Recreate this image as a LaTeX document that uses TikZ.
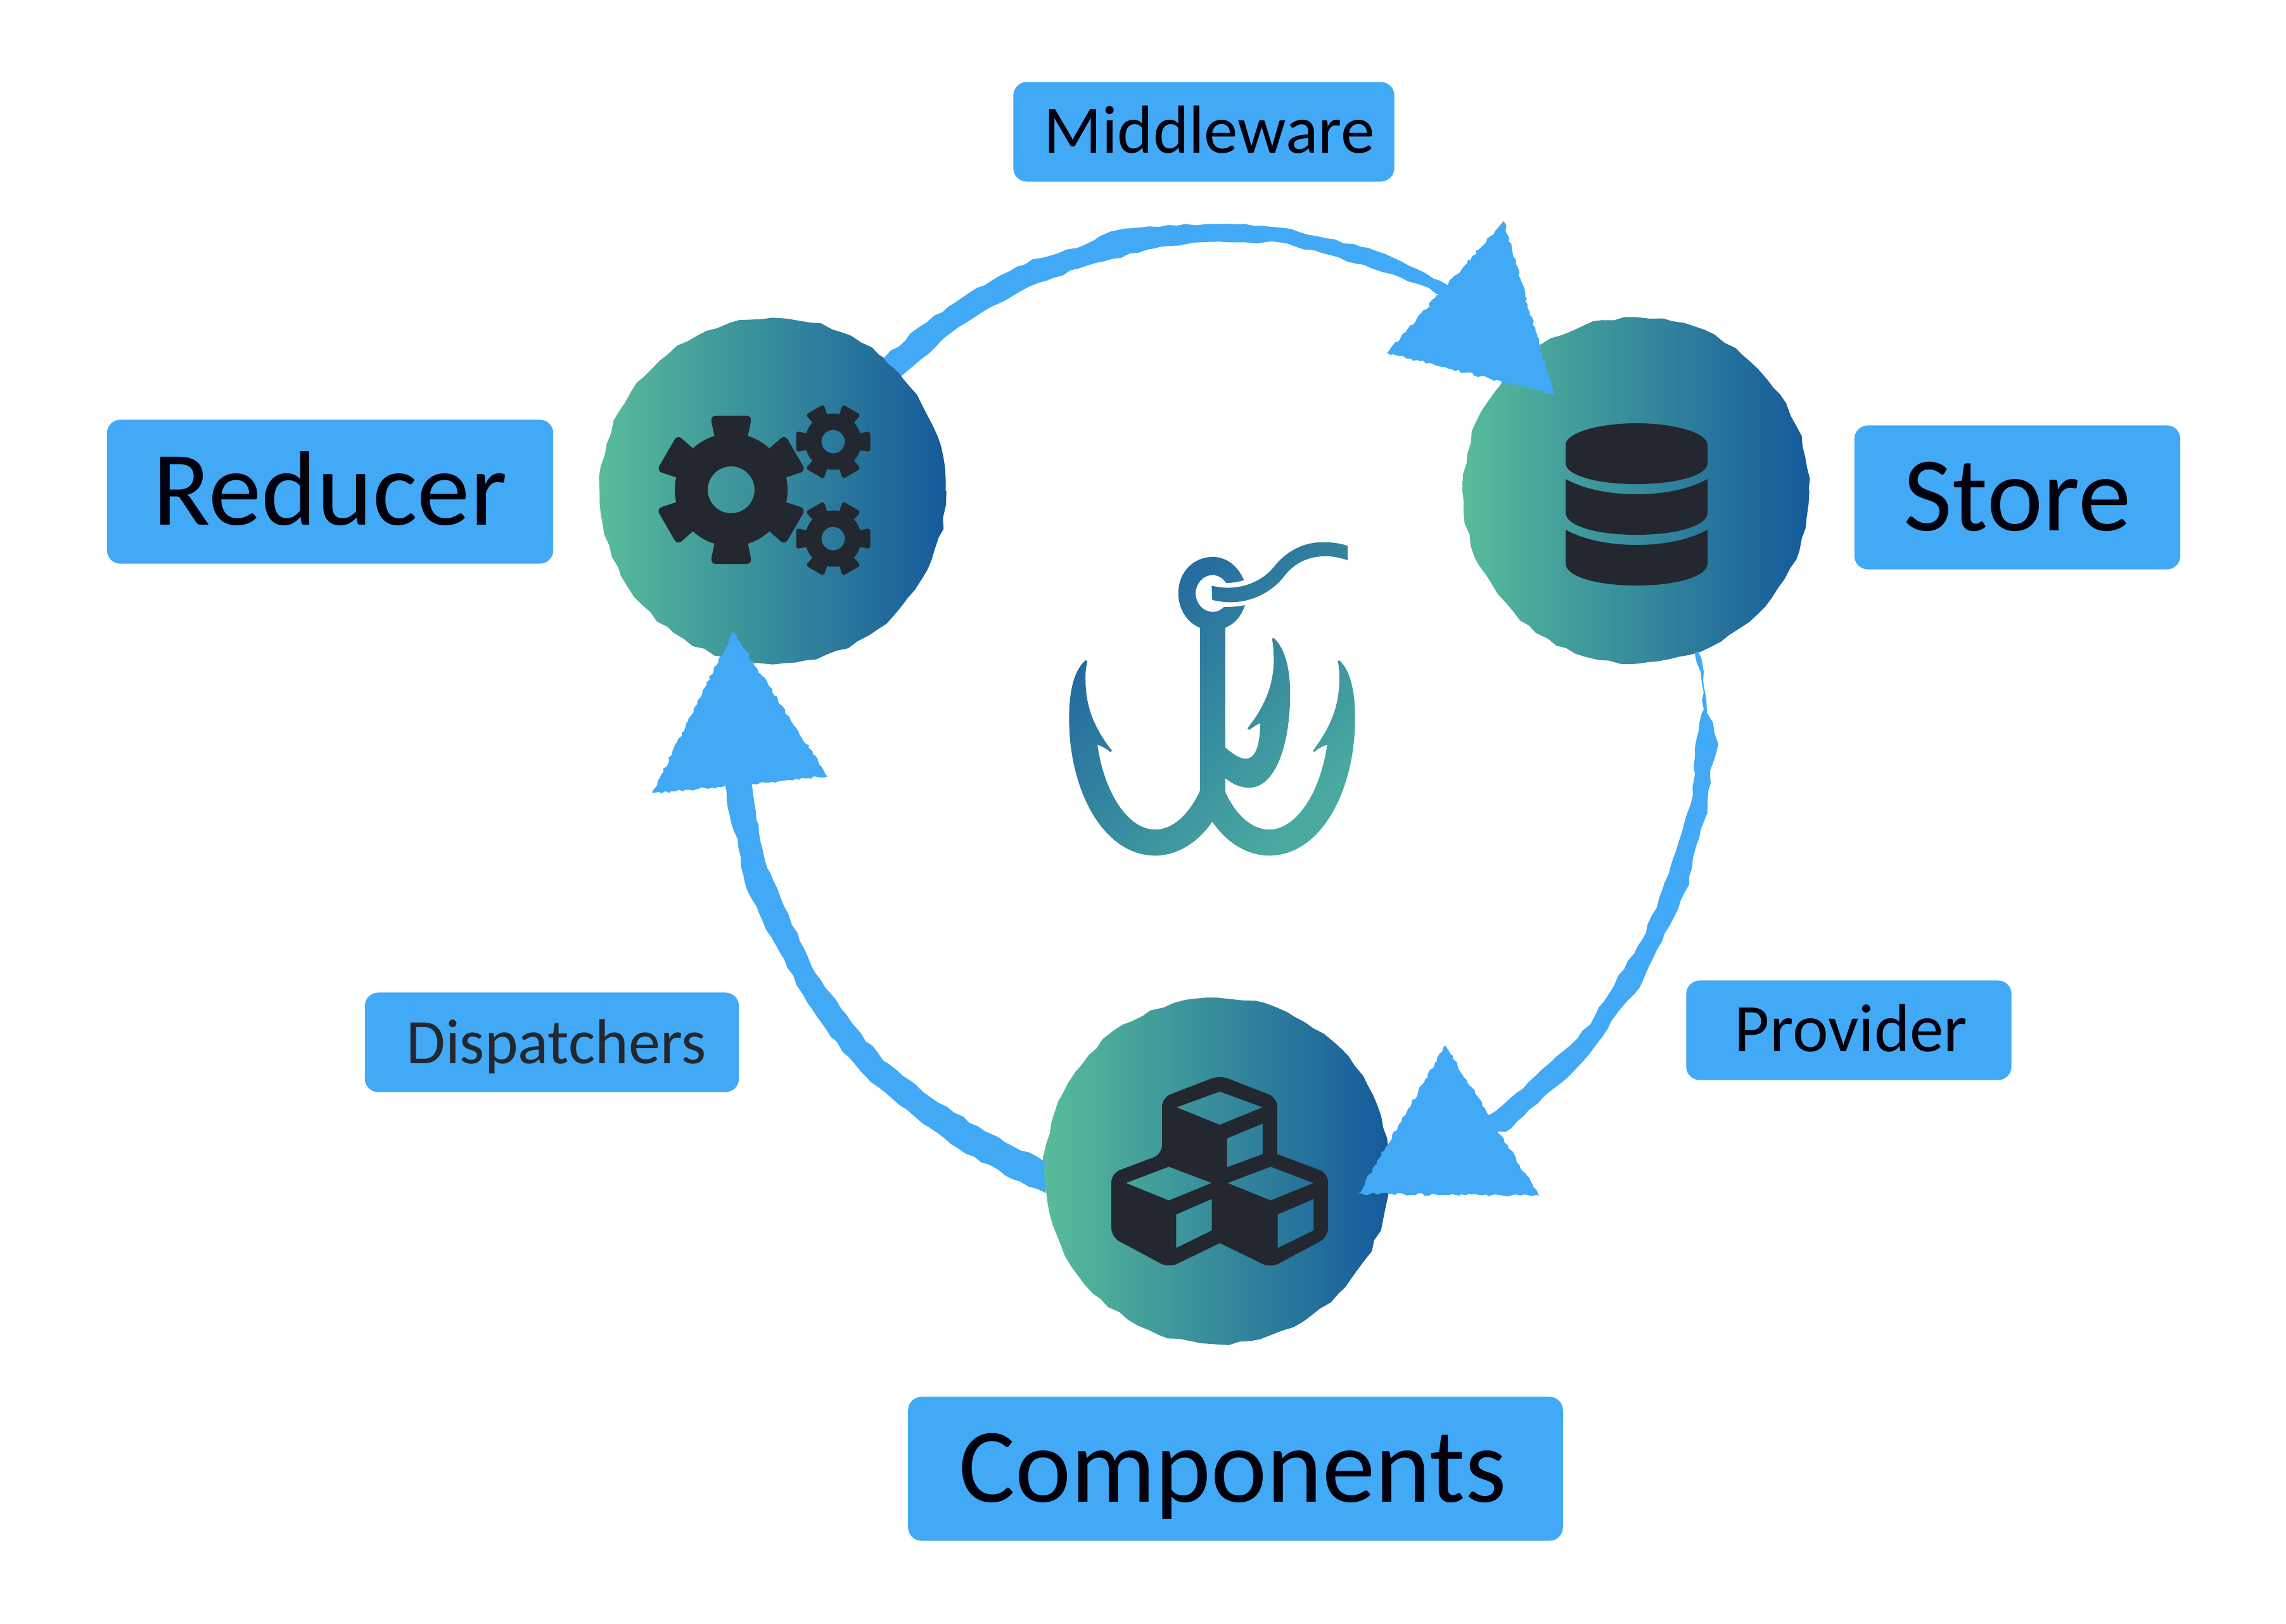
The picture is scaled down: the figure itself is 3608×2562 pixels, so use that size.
\documentclass[tikz,border=0pt]{standalone}
\usepackage{fontspec}
\setmainfont{Carlito}
\usetikzlibrary{decorations.pathmorphing}
\definecolor{boxblue}{HTML}{42A9F6}
\definecolor{icondark}{HTML}{23272F}
\definecolor{ballgreen}{HTML}{58BC9B}
\definecolor{ballblue}{HTML}{155A9C}
\definecolor{hookblue}{HTML}{1F629F}
\definecolor{hookgreen}{HTML}{4AAA9F}
\tikzset{
  bigbox/.style={fill=boxblue,rounded corners=6pt,inner sep=0pt,font=\fontsize{47.5}{47.5}\selectfont,text=black!95!blue,text height=32pt,text depth=2pt},
  smallbox/.style={fill=boxblue,rounded corners=6pt,inner sep=0pt,font=\fontsize{30.5}{30.5}\selectfont,text=black!95!blue,text height=20pt,text depth=1pt},
  ball/.style={circle,minimum size=5.45cm,inner sep=0pt,left color=ballgreen,right color=ballblue,decorate,decoration={random steps,segment length=5pt,amplitude=.7pt}},
  flowband/.style={fill=boxblue,draw=boxblue,line width=.5pt,decorate,decoration={random steps,segment length=4pt,amplitude=.6pt}},
  flowtip/.style={fill=boxblue,decorate,decoration={random steps,segment length=1.5pt,amplitude=.6pt}}
}
\newcommand{\gearicon}[3]{
  \begin{scope}[shift={#1},scale=#2,rotate=#3]
    \fill[icondark,even odd rule] (0,0) circle[radius=89] (0,0) circle[radius=37];
    \foreach \a in {30,90,...,330}
      \fill[icondark,rotate=\a,rounded corners=#2*2.5pt] (78,-25) -- (117,-33) -- (117,33) -- (78,25) -- cycle;
  \end{scope}
}
\begin{document}
\begin{tikzpicture}[x=0.01cm,y=-0.01cm]
  \pgfmathsetseed{11}
  \useasboundingbox (0,0) rectangle (3608,2562);
  % labels
  \node[smallbox,minimum width=6.01cm,minimum height=1.57cm] (middleware) at (1900,208) {\hspace*{5pt}Middleware};
  \node[bigbox,minimum width=7.04cm,minimum height=2.27cm] (reducertext) at (521,776) {Reducer};
  \node[bigbox,minimum width=5.14cm,minimum height=2.27cm] (storetext) at (3184,785) {Store};
  \node[smallbox,minimum width=5.13cm,minimum height=1.57cm] (provider) at (2918,1626) {\hspace*{2pt}Provider};
  \node[smallbox,minimum width=5.90cm,minimum height=1.57cm,text=icondark,font=\fontsize{28.5}{28.5}\selectfont] (dispatchers) at (871,1645) {\hspace*{4pt}Dispatchers};
  \node[bigbox,minimum width=10.33cm,minimum height=2.27cm] (componentstext) at (1950,2318) {Components\hspace*{2.5pt}};
  % balls
  \node[ball] (reducer) at (1220,775) {};
  \node[ball] (store) at (2582,774) {};
  \node[ball] (components) at (1921,1848) {};
  \coordinate (tipstore) at (2300,480);
  \coordinate (tipcomponents) at (2340,1790);
  \coordinate (tipreducer) at (1165,1215);
  % connectors
  \fill[flowband] (reducer.50) -- (1451,517) -- (1530,463) -- (1580,435) -- (1630,410) -- (1701,392) -- (1759,365) -- (1844,356) -- (1951,355) -- (2037,362) -- (2094,377) -- (2159,392) -- (2223,420) -- (2287,452)
    -- (tipstore)
    -- (2279,466) -- (2237,447) -- (2166,423) -- (2101,402) -- (2023,382) -- (1901,381) -- (1823,391) -- (1716,418) -- (1623,452) -- (1548,493) -- (1484,538) -- (reducer.42) -- cycle;
  \fill[flowband] (store.-69) -- (2688,1060) -- (2693,1125) -- (2703,1141) -- (2711,1174) -- (2698,1222) -- (2694,1282) -- (2671,1354) -- (2665,1396) -- (2622,1486) -- (2587,1558) -- (2560,1588) -- (2524,1641) -- (2484,1689) -- (2435,1731) -- (2377,1785)
    -- (tipcomponents)
    -- (2350,1761) -- (2404,1719) -- (2448,1677) -- (2511,1617) -- (2555,1540) -- (2591,1486) -- (2616,1432) -- (2642,1354) -- (2669,1270) -- (2676,1222) -- (2676,1180) -- (2683,1141) -- (2690,1120) -- (2685,1060) -- (store.-70) -- cycle;
  \fill[flowband] (components.177) -- (1554,1786) -- (1469,1733) -- (1393,1674) -- (1344,1615) -- (1286,1536) -- (1243,1442) -- (1210,1370) -- (1193,1294) -- (1184,1230)
    -- (tipreducer)
    -- (1145,1235) -- (1152,1284) -- (1165,1324) -- (1176,1391) -- (1210,1467) -- (1268,1569) -- (1312,1636) -- (1375,1707) -- (1446,1763) -- (1513,1812) -- (1598,1860) -- (components.187) -- cycle;
  % arrow heads
  \fill[flowtip] (2373,349) -- (2189,557) -- (2453,623) -- cycle;
  \fill[flowtip] (2281,1650) -- (2144,1884) -- (2429,1887) -- cycle;
  \fill[flowtip] (1157,997) -- (1029,1252) -- (1307,1225) -- cycle;
  % gears
  \gearicon{(1154,773)}{1}{0}
  \gearicon{(1315,697)}{.5}{30}
  \gearicon{(1315,850)}{.5}{30}
  % database
  \fill[icondark] (2471,702) .. controls (2471,684) and (2520,668) .. (2583,668) .. controls (2646,668) and (2695,684) .. (2695,702) -- (2695,731) .. controls (2695,750) and (2646,764) .. (2583,764) .. controls (2520,764) and (2471,750) .. (2471,731) -- cycle;
  \foreach \dy in {0,80}
    \fill[icondark,yshift=-\dy*0.01cm] (2471,756) .. controls (2500,772) and (2540,780) .. (2583,780) .. controls (2626,780) and (2666,772) .. (2695,756) -- (2695,809) .. controls (2695,830) and (2646,844) .. (2583,844) .. controls (2520,844) and (2471,830) .. (2471,809) -- cycle;
  % cubes
  \begin{scope}[shift={(1640,1560)},scale=1/2.613]
    \fill[icondark,even odd rule,rounded corners=4pt] (745,358) -- (982,450) -- (982,683) [sharp corners] -- (982,683) [rounded corners=4pt] -- (1192,762) -- (1192,1025) -- (955,1152) [sharp corners] -- (745,1050) [rounded corners=4pt] -- (535,1152) -- (298,1025) -- (298,762) -- (507,683) [sharp corners] -- (507,683) [rounded corners=4pt] -- (507,450) -- cycle
      [sharp corners] (567,490) -- (745,425) -- (922,490) -- (745,562) -- cycle
      (775,618) -- (922,557) -- (922,683) -- (775,737) -- cycle
      (358,802) -- (535,735) -- (712,802) -- (535,874) -- cycle
      (565,932) -- (712,868) -- (712,998) -- (565,1070) -- cycle
      (777,802) -- (955,735) -- (1132,802) -- (955,874) -- cycle
      (984,932) -- (1132,868) -- (1132,998) -- (984,1070) -- cycle;
  \end{scope}
  % hook
  \begin{scope}[shift={(1620,820)},xscale=1/2.703,yscale=1/2.8]
    \shade[left color=hookblue,right color=hookgreen,shading angle=45] (928,268) .. controls (900,200) and (850,165) .. (795,165) .. controls (710,165) and (648,235) .. (648,325) .. controls (648,395) and (685,455) .. (740,478) -- (740,1200) .. controls (690,1310) and (620,1370) .. (550,1370) .. controls (430,1370) and (330,1200) .. (303,995) .. controls (325,1003) and (345,1015) .. (358,1027) -- (365,1022) .. controls (290,920) and (250,830) .. (252,690) .. controls (252,670) and (255,650) .. (260,625) -- (252,622) .. controls (205,665) and (182,750) .. (182,880) .. controls (182,1200) and (330,1485) .. (550,1485) .. controls (640,1485) and (730,1430) .. (793,1335) .. controls (855,1430) and (945,1485) .. (1035,1485) .. controls (1255,1485) and (1402,1200) .. (1402,880) .. controls (1402,750) and (1380,665) .. (1335,622) -- (1328,625) .. controls (1333,650) and (1335,670) .. (1335,700) .. controls (1335,830) and (1295,920) .. (1222,1022) -- (1228,1027) .. controls (1240,1015) and (1260,1003) .. (1283,995) .. controls (1255,1200) and (1155,1370) .. (1035,1370) .. controls (965,1370) and (895,1310) .. (848,1203) -- (848,1143) .. controls (880,1170) and (915,1185) .. (950,1185) .. controls (1060,1185) and (1125,1000) .. (1125,770) .. controls (1125,650) and (1100,565) .. (1055,523) -- (1048,526) .. controls (1053,560) and (1055,590) .. (1055,620) .. controls (1055,730) and (1015,830) .. (943,922) -- (950,930) .. controls (962,920) and (980,908) .. (997,900) .. controls (997,990) and (980,1057) .. (935,1057) .. controls (910,1057) and (880,1035) .. (848,1007) -- (848,478) .. controls (890,460) and (918,425) .. (932,378) .. controls (905,384) and (875,387) .. (843,386) .. controls (830,400) and (815,408) .. (795,408) .. controls (755,408) and (722,372) .. (722,325) .. controls (722,282) and (755,245) .. (795,245) .. controls (815,245) and (838,258) .. (852,280) .. controls (880,280) and (905,275) .. (928,268) -- cycle
      (790,292) .. controls (830,303) and (870,303) .. (900,298) .. controls (960,290) and (1020,255) .. (1055,210) .. controls (1100,150) and (1170,100) .. (1265,100) .. controls (1305,100) and (1340,105) .. (1370,116) -- (1370,180) .. controls (1340,168) and (1305,162) .. (1275,162) .. controls (1200,162) and (1140,195) .. (1100,250) .. controls (1055,310) and (975,365) .. (870,365) .. controls (845,365) and (820,362) .. (793,355) -- cycle;
  \end{scope}
\end{tikzpicture}
\end{document}
